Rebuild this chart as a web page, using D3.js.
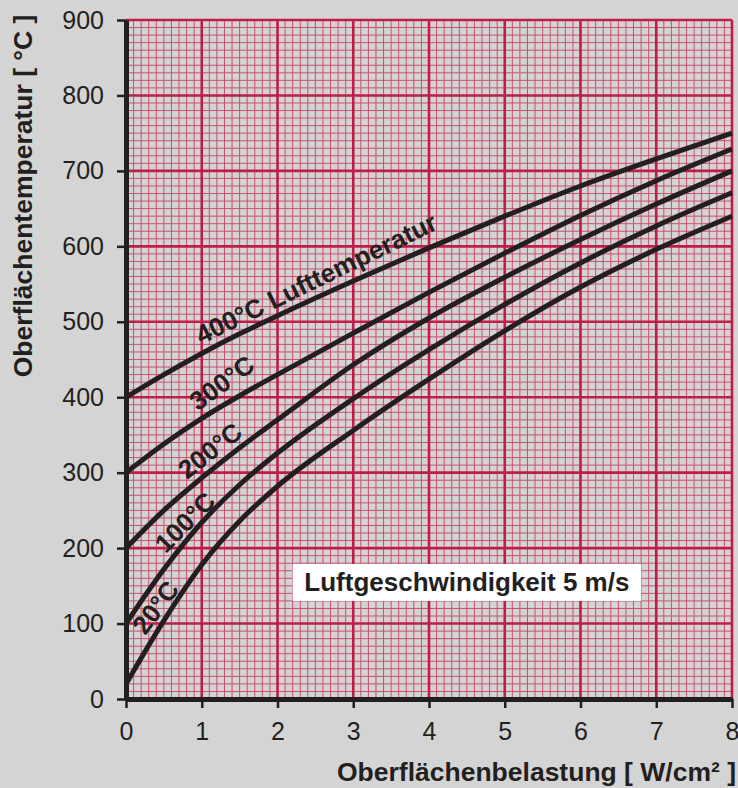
<!DOCTYPE html>
<html>
<head>
<meta charset="utf-8">
<script src="https://cdn.jsdelivr.net/npm/d3@7"></script>
<style>
  body { margin: 0; background: #d4d4d4; }
  svg { display: block; font-family: "Liberation Sans", Arial, sans-serif; }
</style>
</head>
<body>
<svg id="chart"></svg>
<script>
// Data
var loads = [0, 0.5, 1, 1.5, 2, 3, 4, 5, 6, 7, 8];
var t400 = [400, 430, 458, 484, 508, 554, 598, 640, 680, 716, 750];
var t300 = [300, 338, 372, 402, 430, 485, 539, 591, 641, 687, 729];
var t200 = [200, 250, 293, 333, 370, 443, 505, 559, 609, 656, 700];
var t100 = [100, 172, 234, 284, 326, 398, 463, 523, 578, 627, 671];
var t20 = [20, 104, 178, 236, 282, 356, 424, 488, 546, 596, 640];
var curveNames = ["400°C Lufttemperatur", "300°C", "200°C", "100°C", "20°C"];
var xTicks = [0, 1, 2, 3, 4, 5, 6, 7, 8];
var yTicks = [0, 100, 200, 300, 400, 500, 600, 700, 800, 900];

var series = [t400, t300, t200, t100, t20];
// where each label sits (load) and its tilt
var labelAt = [1.04, 1.01, 0.87, 0.6, 0.34];
var labelAngle = [-26, -36, -38, -45, -53];

var W = 738, H = 788;
var margin = { top: 20, right: 6, bottom: 89, left: 126 },
  width = W - margin.left - margin.right,
  height = H - margin.top - margin.bottom;
var ink = "#231f20",
  gridMajor = "#bf1d48",
  gridMinor = "#c9506f";

var svg = d3.select("#chart").attr("width", W).attr("height", H);
svg.append("rect").attr("width", W).attr("height", H).attr("fill", "#d4d4d4");

var chart = svg.append("g")
  .attr("transform", `translate(${margin.left}, ${margin.top})`);

var x = d3.scaleLinear().domain([0, 8]).range([0, width]);
var y = d3.scaleLinear().domain([0, 900]).range([height, 0]);

// Millimetre paper grid
var minorX = d3.range(0, 81).map(i => i / 10);
var minorY = d3.range(0, 91).map(i => i * 10);
chart.append("g").selectAll("line").data(minorX).enter().append("line")
  .attr("x1", d => x(d)).attr("x2", d => x(d))
  .attr("y1", 0).attr("y2", height)
  .attr("stroke", gridMinor).attr("stroke-width", 1);
chart.append("g").selectAll("line").data(minorY).enter().append("line")
  .attr("y1", d => y(d)).attr("y2", d => y(d))
  .attr("x1", 0).attr("x2", width)
  .attr("stroke", gridMinor).attr("stroke-width", 1);
chart.append("g").selectAll("line").data(xTicks).enter().append("line")
  .attr("x1", d => x(d)).attr("x2", d => x(d))
  .attr("y1", 0).attr("y2", height)
  .attr("stroke", gridMajor).attr("stroke-width", 2.6);
chart.append("g").selectAll("line").data(yTicks).enter().append("line")
  .attr("y1", d => y(d)).attr("y2", d => y(d))
  .attr("x1", 0).attr("x2", width)
  .attr("stroke", gridMajor).attr("stroke-width", 2.6);

// Curves
var line = d3.line()
  .x((d, i) => x(loads[i]))
  .y(d => y(d))
  .curve(d3.curveMonotoneX);
chart.append("g").selectAll("path").data(series).enter().append("path")
  .attr("d", line)
  .attr("fill", "none")
  .attr("stroke", ink)
  .attr("stroke-width", 5);

// Curve labels
series.forEach(function(s, i) {
  var along = d3.scaleLinear().domain(loads).range(s);
  var lx = labelAt[i];
  chart.append("text")
    .attr("transform", `translate(${x(lx)}, ${y(along(lx))}) rotate(${labelAngle[i]})`)
    .attr("y", -8)
    .attr("fill", ink)
    .style("font-size", "26px")
    .style("font-weight", "bold")
    .text(curveNames[i]);
});

// Note box
var note = chart.append("g");
note.append("rect")
  .attr("x", x(2.2)).attr("y", y(179))
  .attr("width", x(6.8) - x(2.2)).attr("height", y(130) - y(179))
  .attr("fill", "#ffffff");
note.append("text")
  .attr("x", (x(2.2) + x(6.8)) / 2).attr("y", y(155))
  .attr("dy", "0.36em")
  .attr("text-anchor", "middle")
  .attr("fill", ink)
  .style("font-size", "26px")
  .style("font-weight", "bold")
  .text("Luftgeschwindigkeit 5 m/s");

// Axes
var xAxis = chart.append("g")
  .attr("transform", "translate(0," + height + ")")
  .call(d3.axisBottom(x).tickValues(xTicks).tickSize(9).tickSizeOuter(0).tickPadding(14));
var yAxis = chart.append("g")
  .call(d3.axisLeft(y).tickValues(yTicks).tickSize(9).tickSizeOuter(0).tickPadding(13));
[xAxis, yAxis].forEach(function(a) {
  a.select(".domain").attr("stroke", ink).attr("stroke-width", 5);
  a.selectAll(".tick line").attr("stroke", ink).attr("stroke-width", 2.5);
  a.selectAll(".tick text")
    .attr("fill", ink)
    .style("font-size", "25px")
    .style("font-family", "'Liberation Sans', Arial, sans-serif");
});

// Axis titles
svg.append("text")
  .attr("transform", "translate(32," + (margin.top + 176) + ") rotate(-90)")
  .attr("text-anchor", "middle")
  .attr("fill", ink)
  .style("font-size", "26.5px")
  .style("font-weight", "bold")
  .text("Oberflächentemperatur [ °C ]");
svg.append("text")
  .attr("x", 736)
  .attr("y", 781)
  .attr("text-anchor", "end")
  .attr("fill", ink)
  .style("font-size", "26.5px")
  .style("font-weight", "bold")
  .text("Oberflächenbelastung [ W/cm² ]");
</script>
</body>
</html>
